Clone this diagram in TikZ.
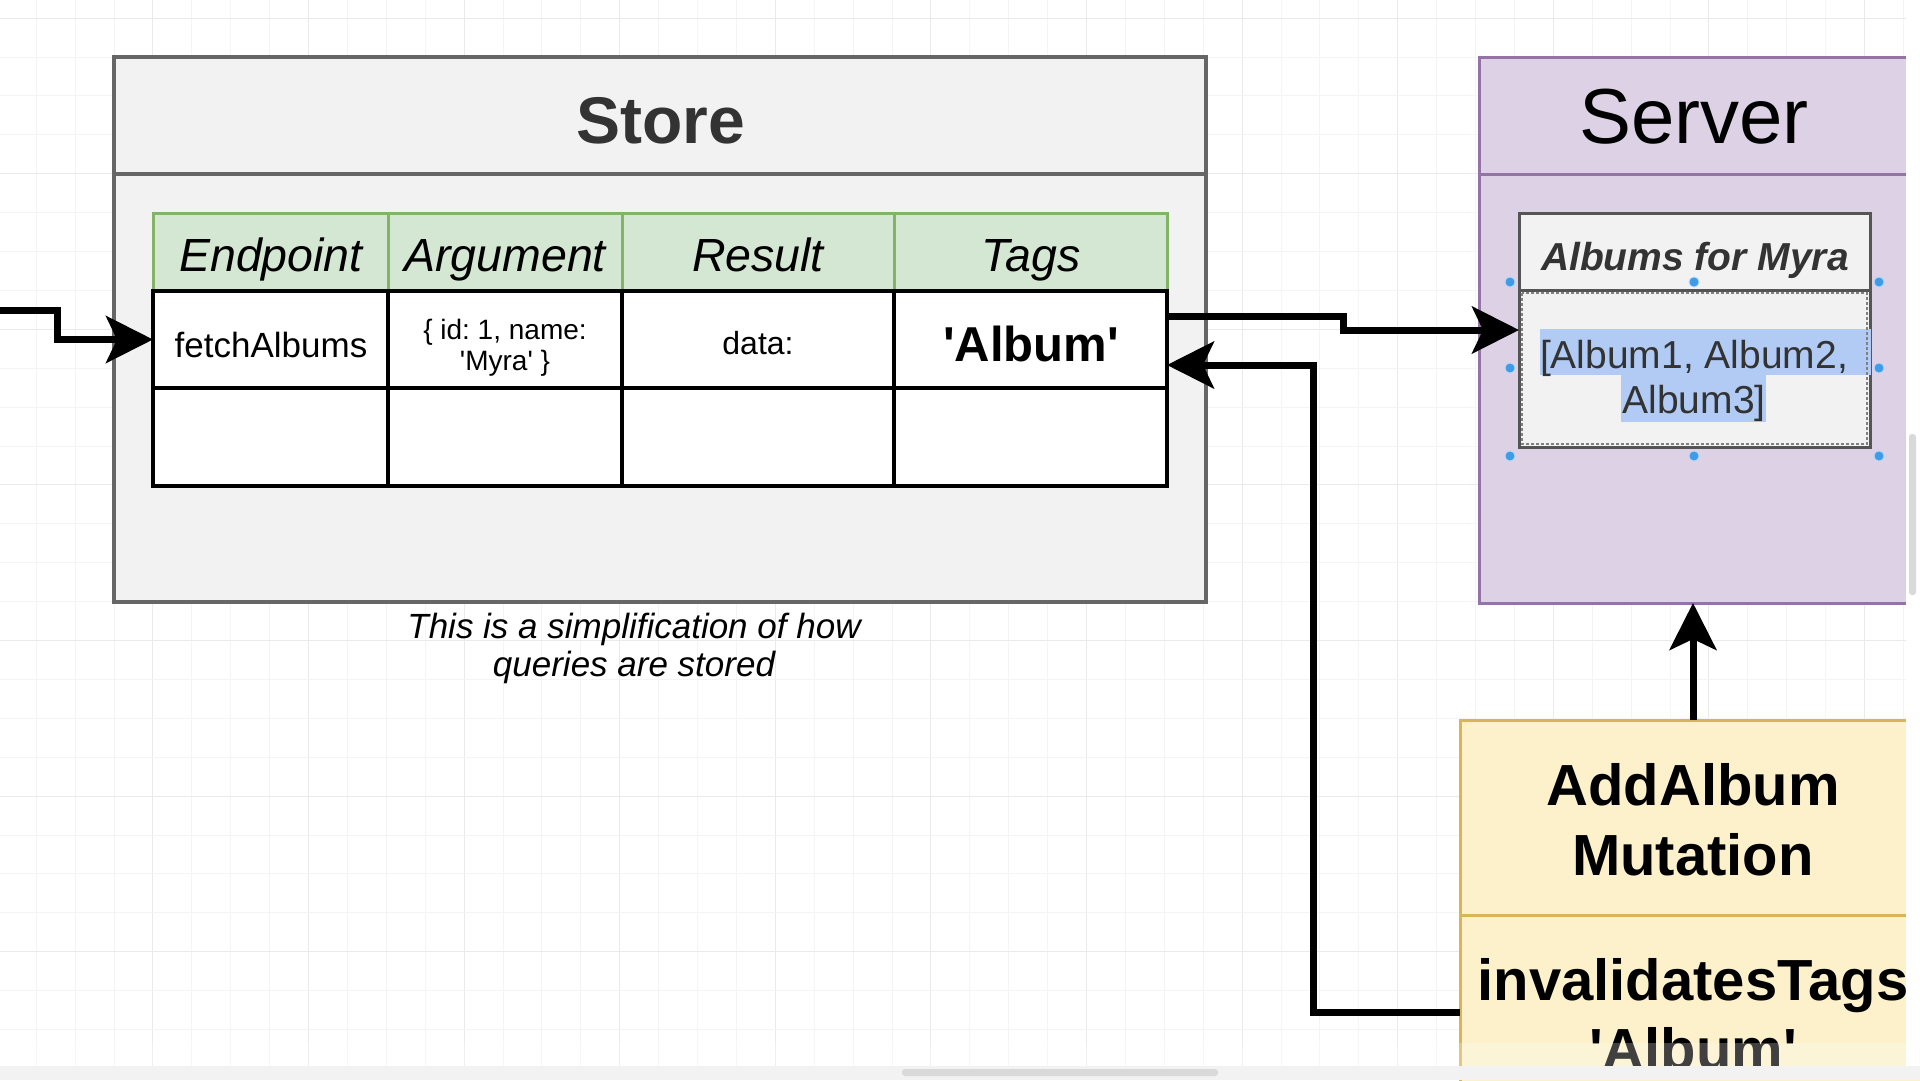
\documentclass[tikz,border=0pt]{standalone}
\usepackage{fontspec}
\setmainfont{Liberation Sans}
\usetikzlibrary{arrows.meta,calc}
\frenchspacing
\definecolor{storefill}{HTML}{F2F2F2}
\definecolor{storeline}{HTML}{666666}
\definecolor{hdrfill}{HTML}{D4E7D2}
\definecolor{hdrline}{HTML}{82B366}
\definecolor{srvfill}{HTML}{DDD1E5}
\definecolor{srvline}{HTML}{9673A6}
\definecolor{mutfill}{HTML}{FCF1CA}
\definecolor{mutline}{HTML}{D6B656}
\definecolor{albline}{HTML}{555555}
\definecolor{hilite}{HTML}{B1CBF4}
\definecolor{handle}{HTML}{3D9BE9}
\definecolor{gridminor}{HTML}{F4F4F4}
\definecolor{gridmajor}{HTML}{EAEAEA}
\definecolor{txtdark}{HTML}{333333}
\definecolor{edgegray}{HTML}{F2F2F2}
\newcommand\fsz[2]{\fontsize{#1}{#2}\selectfont}
\newcommand\sq{\textquotesingle}
\begin{document}
\begin{tikzpicture}[x=1pt,y=-1pt,
  boxnw/.style={anchor=north west, inner sep=0pt, outer sep=0pt},
  storebox/.style={boxnw, draw=storeline, fill=storefill, line width=3.2pt},
  hdrcell/.style={boxnw, draw=hdrline, fill=hdrfill, line width=3pt, minimum height=78pt},
  bodycell/.style={boxnw, draw=black, fill=white, line width=3.5pt},
  srvbox/.style={boxnw, draw=srvline, fill=srvfill, line width=3pt},
  albbox/.style={boxnw, draw=albline, fill=storefill, line width=3pt},
  mutbox/.style={boxnw, draw=mutline, fill=mutfill, line width=3pt},
  lbl/.style={anchor=base, inner sep=0pt, outer sep=0pt},
  mlbl/.style={align=center, inner sep=0pt, outer sep=0pt},
  hdrtxt/.style={lbl, font=\fsz{46.5}{54}\itshape},
  arr/.style={line width=7pt, line join=miter, -{Stealth[length=47pt,width=47pt,inset=11pt]}},
  hdl/.style={fill=handle, draw=handle!40, line width=0.8pt},
]
% canvas
\fill[white] (0,0) rectangle (1920,1080);
\useasboundingbox (0,0) rectangle (1920,1080);
% grid
\foreach \k in {-2,...,46} {
  \pgfmathsetmacro\gx{114+38.9*\k}
  \pgfmathtruncatemacro\gm{mod(\k+12,4)}
  \ifnum\gm=1 \draw[gridmajor, line width=1pt] (\gx,0) -- (\gx,1080);
  \else \draw[gridminor, line width=1pt] (\gx,0) -- (\gx,1080); \fi
}
\foreach \k in {-1,...,26} {
  \pgfmathsetmacro\gy{57+38.9*\k}
  \pgfmathtruncatemacro\gm{mod(\k+12,4)}
  \ifnum\gm=3 \draw[gridmajor, line width=1pt] (0,\gy) -- (1920,\gy);
  \else \draw[gridminor, line width=1pt] (0,\gy) -- (1920,\gy); \fi
}

% Store container
\node[storebox, minimum width=1092pt, minimum height=545pt] (store) at (114,57) {};
\node[storebox, minimum width=1092pt, minimum height=117pt] (storehead) at (114,57) {};

% table header
\node[hdrcell, minimum width=235pt] (h1) at (153,213) {};
\node[hdrcell, minimum width=234pt] (h2) at (388,213) {};
\node[hdrcell, minimum width=272pt] (h3) at (622,213) {};
\node[hdrcell, minimum width=273pt] (h4) at (894,213) {};
% table body
\node[bodycell, minimum width=235pt, minimum height=97pt] (r1c1) at (153,291) {};
\node[bodycell, minimum width=234pt, minimum height=97pt] (r1c2) at (388,291) {};
\node[bodycell, minimum width=272pt, minimum height=97pt] (r1c3) at (622,291) {};
\node[bodycell, minimum width=273pt, minimum height=97pt] (r1c4) at (894,291) {};
\node[bodycell, minimum width=235pt, minimum height=98pt] (r2c1) at (153,388) {};
\node[bodycell, minimum width=234pt, minimum height=98pt] (r2c2) at (388,388) {};
\node[bodycell, minimum width=272pt, minimum height=98pt] (r2c3) at (622,388) {};
\node[bodycell, minimum width=273pt, minimum height=98pt] (r2c4) at (894,388) {};

% Server container
\node[srvbox, minimum width=430pt, minimum height=546pt] (server) at (1479,57) {};
\node[srvbox, minimum width=430pt, minimum height=117pt] (serverhead) at (1479,57) {};
\node[albbox, minimum width=351pt, minimum height=77pt] (albhead) at (1519,213) {};
\node[albbox, minimum width=351pt, minimum height=157pt] (albbody) at (1519,290) {};
% text selection highlight
\fill[hilite] (1540,329) rectangle (1871,375);
\fill[hilite] (1621,375) rectangle (1766,422);
\draw[color=gray, line width=1.2pt, dash pattern=on 3pt off 2pt] (1522,293) rectangle (1867,444);
\foreach \hx/\hy in {1510/282,1694/282,1879/282,1510/368,1879/368,1510/456,1694/456,1879/456}
  \filldraw[hdl] (\hx,\hy) circle (5pt);

% Mutation
\node[mutbox, minimum width=466pt, minimum height=195pt] (mutA) at (1460,720) {};
\node[mutbox, minimum width=466pt, minimum height=194pt] (mutB) at (1460,915) {};

% connectors
\coordinate (inStart) at (0,310);
\draw[arr] (inStart) -- ++(57,0) |- (r1c1.west);
\draw[arr] ($(r1c4.east)+(0,-23)$) -- ++(176,0) |- ($(albbody.west)+(0,-38.5)$);
\draw[arr] (mutB.west) -- ++(-147,0) |- ($(r1c4.east)+(0,25.5)$);
\draw[arr] (mutA.north) -- (mutA.north |- server.south);

% texts
\node[lbl, font=\fsz{66}{79}\bfseries, text=txtdark] (tStore) at (661,143) {Store};
\node[hdrtxt] (tEndpoint) at (271,271) {Endpoint};
\node[hdrtxt] (tArgument) at (505,271) {Argument};
\node[hdrtxt] (tResult) at (758,271) {Result};
\node[hdrtxt] (tTags) at (1031,271) {Tags};
\node[lbl, font=\fsz{35}{42}] (tFetch) at (271,357) {fetchAlbums};
\node[mlbl, font=\fsz{28}{30.5}] (tArg) at (505,348) {\{ id: 1, name:\\\sq Myra\sq\ \}};
\node[lbl, font=\fsz{32}{38}] (tData) at (758,354) {data:};
\node[lbl, font=\fsz{49}{58}\bfseries] (tTag) at (1031,361) {\sq Album\sq};
\node[mlbl, font=\fsz{35}{38}\itshape] (tCaption) at (634,648) {This is a simplification of how\\queries are stored};

\node[lbl, font=\fsz{78}{94}] (tServer) at (1694,143) {Server};
\node[lbl, font=\fsz{39}{46}\bfseries\itshape, text=txtdark] (tAlbHead) at (1695,270) {Albums for Myra};
\node[mlbl, font=\fsz{39}{45.6}, text=txtdark] (tAlbList) at (1694,381) {[Album1, Album2,\\Album3]};

\node[mlbl, font=\fsz{58}{70}\bfseries] (tMutA) at (1693,820) {AddAlbum\\Mutation};
\node[mlbl, font=\fsz{58}{69}\bfseries] (tMutB) at (1693,1014) {invalidatesTags\\\sq Album\sq};

% window edges
\fill[white, opacity=0.25] (0,1043) rectangle (1906,1066);
\fill[white] (1906,0) rectangle (1920,1066);
\fill[edgegray] (0,1066) rectangle (1920,1080);
\fill[color=black!15, rounded corners=3pt] (1909,434) rectangle (1916,595);
\fill[color=black!15, rounded corners=3pt] (902,1069) rectangle (1218,1076);
\end{tikzpicture}
\end{document}
